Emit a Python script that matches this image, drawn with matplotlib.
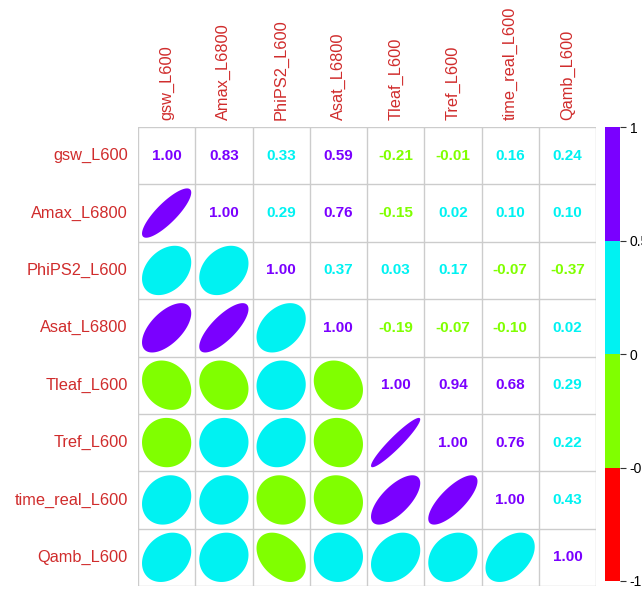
import numpy as np
import matplotlib
matplotlib.use("Agg")
import matplotlib.pyplot as plt
from matplotlib.patches import Polygon, Rectangle

plt.rcParams["font.family"] = ["Liberation Sans", "DejaVu Sans"]

VARS = ["gsw_L600", "Amax_L6800", "PhiPS2_L600", "Asat_L6800",
        "Tleaf_L600", "Tref_L600", "time_real_L600", "Qamb_L600"]

# upper triangle rows, diagonal included
R_GSW = [1.00, 0.83, 0.33, 0.59, -0.21, -0.01, 0.16, 0.24]
R_AMAX = [1.00, 0.29, 0.76, -0.15, 0.02, 0.10, 0.10]
R_PHI = [1.00, 0.37, 0.03, 0.17, -0.07, -0.37]
R_ASAT = [1.00, -0.19, -0.07, -0.10, 0.02]
R_TLEAF = [1.00, 0.94, 0.68, 0.29]
R_TREF = [1.00, 0.76, 0.22]
R_TIME = [1.00, 0.43]
R_QAMB = [1.00]

BIN_EDGES = [-1.0, -0.5, 0.0, 0.5, 1.0]
BIN_COLS = ["#FF0000", "#80FF00", "#00F2F2", "#7A00FF"]
CBAR_TICKS = [-1, -0.5, 0, 0.5, 1]

n = len(VARS)
rows = [R_GSW, R_AMAX, R_PHI, R_ASAT, R_TLEAF, R_TREF, R_TIME, R_QAMB]
C = np.eye(n)
for i, r in enumerate(rows):
    C[i, i:] = r
    C[i:, i] = r


def col_of(v):
    k = np.searchsorted(BIN_EDGES, v, side="right") - 1
    return BIN_COLS[min(max(k, 0), len(BIN_COLS) - 1)]


def ell(rho, npts=99):
    # same shape as corrplot's ellipse
    t = np.linspace(0, 2 * np.pi, npts)
    a = np.arccos(np.clip(rho, -1, 1))
    return 0.86 * np.cos(t + a / 2) / 2, 0.86 * np.cos(t - a / 2) / 2


fig = plt.figure(figsize=(6.42, 5.92), dpi=100)
ax = fig.add_axes([138 / 642, 6 / 592, 458 / 642, 459 / 592])
ax.set_xlim(0, n); ax.set_ylim(n, 0)
ax.axis("off")

for k in range(n + 1):
    ax.plot([k, k], [0, n], color="#CCCCCC", lw=1, zorder=1)
    ax.plot([0, n], [k, k], color="#CCCCCC", lw=1, zorder=1)

for i in range(n):
    for j in range(n):
        v = C[i, j]
        cx, cy = j + 0.5, i + 0.5
        if j >= i:
            ax.text(cx, cy, f"{v:.2f}", ha="center", va="center", fontsize=11,
                    fontweight="bold", color=col_of(v), zorder=3)
        else:
            ex, ey = ell(v)
            ax.add_patch(Polygon(np.c_[cx + ex, cy - ey], closed=True,
                                 facecolor=col_of(v), edgecolor="none", zorder=2))

lab_col = "#D02C2C"
for k, name in enumerate(VARS):
    ax.text(-0.18, k + 0.5, name, ha="right", va="center", fontsize=11.8,
            color=lab_col, clip_on=False)
    ax.text(k + 0.5, -0.13, name, ha="center", va="bottom", rotation=90,
            fontsize=11.8, color=lab_col, clip_on=False)

# colour legend
cax = fig.add_axes([605 / 642, 11 / 592, 15 / 642, 454 / 592])
cax.set_xlim(0, 1); cax.set_ylim(-1, 1)
for lo, hi, c in zip(BIN_EDGES[:-1], BIN_EDGES[1:], BIN_COLS):
    cax.add_patch(Rectangle((0, lo), 1, hi - lo, facecolor=c, edgecolor="none"))
for s in cax.spines.values():
    s.set_visible(False)
cax.set_xticks([])
cax.yaxis.tick_right()
cax.set_yticks(CBAR_TICKS)
cax.set_yticklabels([f"{t:g}" for t in CBAR_TICKS])
cax.tick_params(axis="y", length=4, width=0.8, color="#333333", labelsize=10, pad=3)

fig.savefig("out.png", dpi=100)
